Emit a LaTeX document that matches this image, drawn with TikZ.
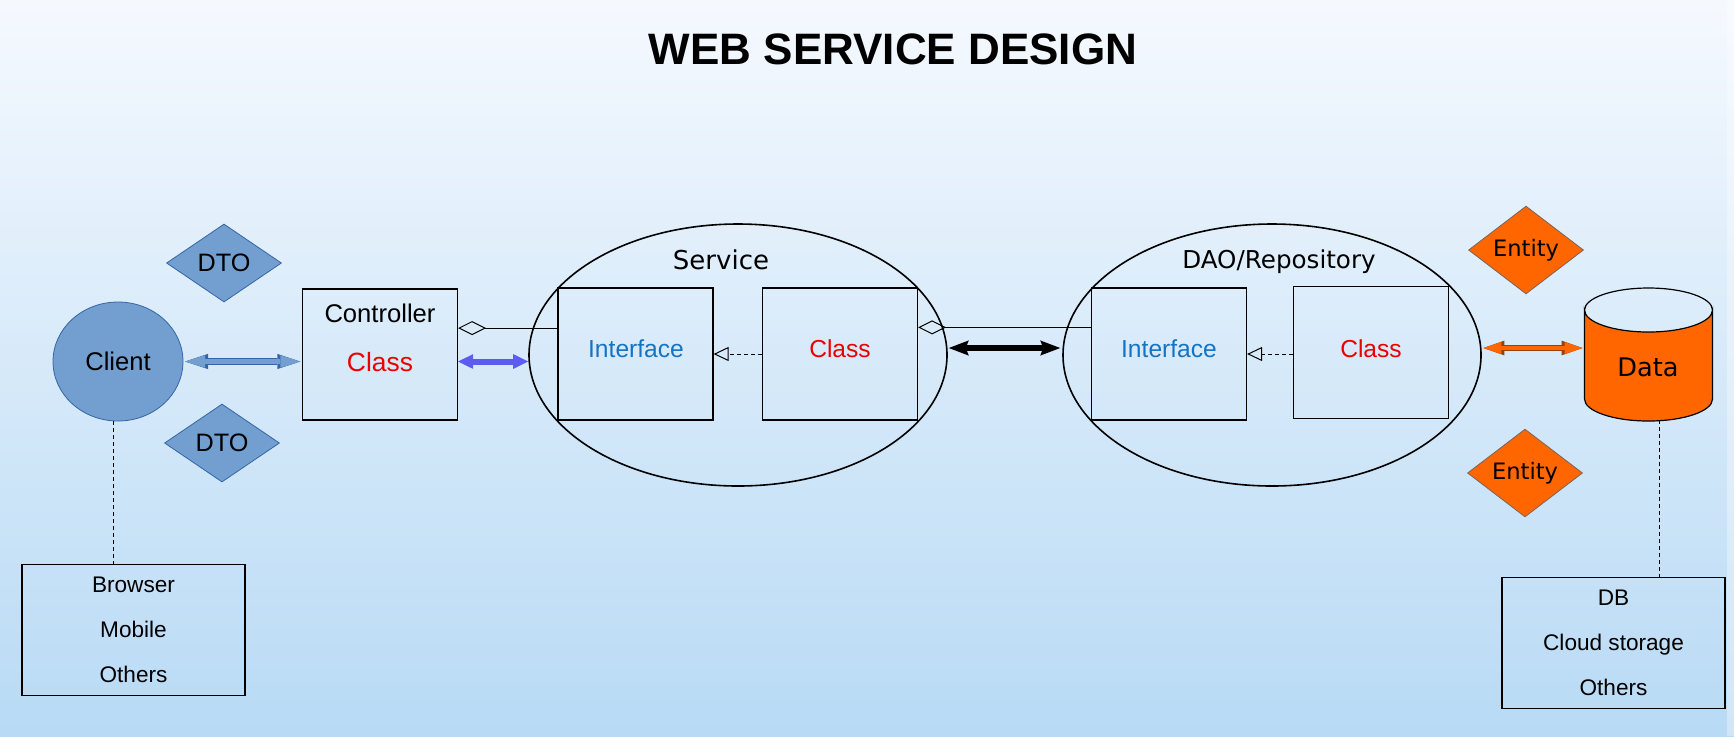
\documentclass[tikz,border=0pt]{standalone}
\usepackage{fontspec}
\setmainfont{Liberation Sans}
\newfontfamily\dejavu{DejaVu Sans}
\usetikzlibrary{shapes.geometric,arrows.meta,calc}
\definecolor{bgtop}{RGB}{245,249,254}
\definecolor{bgbot}{RGB}{184,218,245}
\definecolor{steel}{RGB}{114,159,207}
\definecolor{steeldark}{RGB}{52,101,164}
\definecolor{orng}{RGB}{255,102,0}
\definecolor{orngdark}{RGB}{150,65,10}
\definecolor{entborder}{RGB}{120,100,90}
\definecolor{ifblue}{RGB}{20,115,195}
\definecolor{clsred}{RGB}{235,0,0}
\definecolor{violetarrow}{RGB}{92,92,240}
\begin{document}
\begin{tikzpicture}[x=0.5pt,y=-0.5pt,
  box/.style={draw=black, line width=0.6pt, minimum width=77.5pt, minimum height=66pt, inner sep=0pt},
  infobox/.style={draw=black, line width=0.6pt, minimum width=111.5pt, minimum height=65.5pt, inner sep=0pt, align=center},
  oval/.style={ellipse, draw=black, line width=0.8pt, minimum width=209pt, minimum height=131pt, inner sep=0pt},
  dto/.style={diamond, draw=steeldark, line width=0.4pt, fill=steel, minimum width=57.5pt, minimum height=39pt, inner sep=0pt, font=\fontsize{12.6}{14}\selectfont},
  entity/.style={diamond, draw=entborder, line width=0.4pt, fill=orng, minimum width=57.5pt, minimum height=39.5pt, inner sep=0pt, font=\dejavu\fontsize{11.3}{13}\selectfont},
  txt/.style={inner sep=0pt, font=\fontsize{12.8}{15}\selectfont},
  ntxt/.style={inner sep=0pt, font=\fontsize{12.3}{15}\selectfont},
  dtxt/.style={inner sep=0pt, font=\dejavu\fontsize{12.6}{15}\selectfont},
  agg/.style={draw=black, line width=0.5pt, {Diamond[open,length=14pt,width=7pt,line width=0.5pt]}-},
  real/.style={draw=black, line width=0.5pt, dash pattern=on 2pt off 1.5pt, -{Triangle[open,length=7.5pt,width=7pt,line width=0.5pt]}},
  dashline/.style={draw=black, line width=0.5pt, dash pattern=on 2pt off 1.5pt}
]
% background
\useasboundingbox (0,0) rectangle (1734,736);
\fill[top color=bgtop, bottom color=bgbot] (0,0) rectangle (1734,736);
\fill[white, opacity=0.35] (1727,0) rectangle (1734,736);

% title
\node[inner sep=0pt, font=\bfseries\fontsize{22}{26}\selectfont] (title) at (893,49) {WEB SERVICE DESIGN};

% client side
\node[ellipse, draw=steeldark, line width=0.4pt, fill=steel, minimum width=65pt, minimum height=59.5pt, inner sep=0pt, font=\fontsize{12.8}{15}\selectfont] (client) at (118,361.5) {Client};
\node[dto] (dto1) at (224,263) {DTO};
\node[dto] (dto2) at (222,443) {DTO};
\node[infobox, font=\fontsize{11.3}{22.4}\selectfont] (browser) at (133.5,630) {Browser\\Mobile\\Others};

% controller
\node[box, minimum width=77.5pt, minimum height=65.5pt] (ctrl) at (380,354.5) {};
\node[txt] (ctrlt) at (380,313) {Controller};
\node[txt, text=clsred, font=\fontsize{13.2}{15}\selectfont] (ctrlc) at (380,362) {Class};

% service
\node[oval] (svc) at (738,355) {};
\node[dtxt, font=\dejavu\fontsize{13}{15}\selectfont] (svcl) at (721,260) {Service};
\node[box] (sint) at (635.5,354) {};
\node[ntxt, text=ifblue] (sintt) at (636,349) {Interface};
\node[box] (scls) at (840,354) {};
\node[ntxt, text=clsred] (sclst) at (840,349) {Class};

% dao
\node[oval] (dao) at (1272,355) {};
\node[dtxt, font=\dejavu\fontsize{12.3}{15}\selectfont] (daol) at (1279,262) {DAO/Repository};
\node[box] (dint) at (1169,354) {};
\node[ntxt, text=ifblue] (dintt) at (1169,349) {Interface};
\node[box] (dcls) at (1371,352.5) {};
\node[ntxt, text=clsred] (dclst) at (1371,349) {Class};

% data
\node[entity] (ent1) at (1526,250) {Entity};
\node[entity] (ent2) at (1525,473) {Entity};
\node[minimum width=64pt, minimum height=66.5pt, inner sep=0pt] (data) at (1648.5,354.5) {};
\filldraw[fill=orng, draw=black, line width=0.6pt]
  (1584.5,310) -- (1584.5,399) arc[start angle=180, end angle=0, x radius=64, y radius=22]
  -- (1712.5,310) arc[start angle=0, end angle=180, x radius=64, y radius=22] -- cycle;
\draw[line width=0.6pt] (1584.5,310) arc[start angle=180, end angle=360, x radius=64, y radius=22];
\node[dtxt, font=\dejavu\fontsize{12.8}{15}\selectfont] (datat) at (1648,367) {Data};
\node[infobox, font=\fontsize{11.3}{22.6}\selectfont] (db) at (1613.5,643) {DB\\Cloud storage\\Others};

% connectors
\draw[preaction={draw=steeldark, line width=3.4pt,
    arrows={Triangle[length=11.5pt,width=7.6pt,line width=0pt]-Triangle[length=11.5pt,width=7.6pt,line width=0pt]}},
  draw=steel, line width=2.4pt, shorten <=0.8pt, shorten >=0.8pt,
  arrows={Triangle[length=10pt,width=6.2pt,line width=0pt]-Triangle[length=10pt,width=6.2pt,line width=0pt]}]
  (client.east) -- (client.east -| ctrl.west);

\draw[draw=violetarrow, line width=3pt,
  arrows={Triangle[length=7.5pt,width=7.4pt,line width=0pt]-Triangle[length=7.5pt,width=7.4pt,line width=0pt]}]
  (ctrl.east |- client.east) -- (svc.west |- client.east);

\coordinate (a1) at ($(ctrl.north east)!0.3!(ctrl.south east)$);
\draw[agg] (a1) -- (a1 -| sint.west);
\coordinate (a2) at ($(scls.north east)!0.3!(scls.south east)$);
\draw[agg] (a2) -- (a2 -| dint.west);

\draw[real] (scls.west) -- (sint.east);
\draw[real] (dint.east -| dcls.west) -- (dint.east);

\draw[draw=black, line width=3.2pt,
  arrows={Stealth[length=10pt,width=7.6pt,inset=1.5pt,line width=0pt]-Stealth[length=10pt,width=7.6pt,inset=1.5pt,line width=0pt]}]
  ($(svc.east)+(1,-7)$) -- ($(dao.west)+(-2,-7)$);

\draw[preaction={draw=orngdark, line width=3.2pt,
    arrows={Triangle[length=10.5pt,width=7.4pt,line width=0pt]-Triangle[length=10.5pt,width=7.4pt,line width=0pt]}},
  draw=orng, line width=2.2pt, shorten <=0.8pt, shorten >=0.8pt,
  arrows={Triangle[length=9pt,width=6pt,line width=0pt]-Triangle[length=9pt,width=6pt,line width=0pt]}]
  ($(dao.east)+(0,-7)$) -- ($(data.west)+(0,-6.5)$);

\draw[dashline] ($(client.south)+(-5,0)$) -- ($(browser.north -| client.south)+(-5,0)$);
\draw[dashline] ($(data.south)+(11,-1)$) -- ($(db.north -| data.south)+(11,0)$);
\end{tikzpicture}
\end{document}
